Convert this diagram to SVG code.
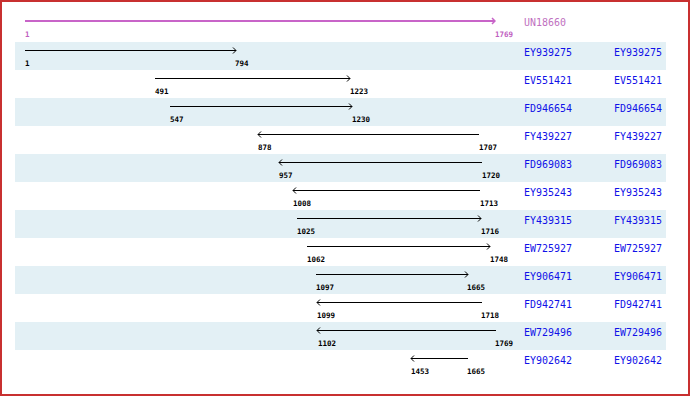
<svg xmlns="http://www.w3.org/2000/svg" width="690" height="396" viewBox="0 0 690 396">
<defs>
<style>
.band{fill:#e3f0f5}
.nm{font-family:"DejaVu Sans Mono","Liberation Mono",monospace;font-size:11px;fill:#1010e8}
.num{font-family:"DejaVu Sans Mono","Liberation Mono",monospace;font-size:7.5px;font-weight:bold;fill:#000}
.q{font-family:"DejaVu Sans Mono","Liberation Mono",monospace;font-size:11px;fill:#c070c0}
.qn{font-family:"DejaVu Sans Mono","Liberation Mono",monospace;font-size:7.5px;font-weight:bold;fill:#c060c0}
.hit{stroke:#000;stroke-width:1;fill:none;marker-end:url(#ah)}
.rev{stroke:#000;stroke-width:1;fill:none;marker-start:url(#ah)}
</style>
<marker id="ah" viewBox="-4 -4 5 8" refX="0" refY="0" markerWidth="5" markerHeight="8" markerUnits="userSpaceOnUse" orient="auto-start-reverse">
<path d="M-3,-3 L0,0 L-3,3" fill="none" stroke="#000" stroke-width="1"/>
</marker>
<marker id="ahq" viewBox="-4 -4 5 8" refX="0" refY="0" markerWidth="5" markerHeight="8" markerUnits="userSpaceOnUse" orient="auto">
<path d="M-3,-3 L0,0 L-3,3" fill="none" stroke="#c864c8" stroke-width="1.5"/>
</marker>
</defs>
<rect x="1" y="1" width="688" height="394" fill="#fff" stroke="#c83030" stroke-width="2"/>

<g id="query">
<text class="q" x="524" y="26" textLength="42" lengthAdjust="spacingAndGlyphs">UN18660</text>
<text class="qn" x="25" y="36.5">1</text>
<text class="qn" x="495" y="36.5">1769</text>
</g>

<g id="r1"><rect class="band" x="15" y="42" width="651" height="28"/>
<text class="nm" x="524" y="56" textLength="48" lengthAdjust="spacingAndGlyphs">EY939275</text><text class="nm" x="614" y="56" textLength="48" lengthAdjust="spacingAndGlyphs">EY939275</text>
<text class="num" x="25" y="66">1</text><text class="num" x="235" y="66">794</text></g>

<g id="r2">
<text class="nm" x="524" y="84" textLength="48" lengthAdjust="spacingAndGlyphs">EV551421</text><text class="nm" x="614" y="84" textLength="48" lengthAdjust="spacingAndGlyphs">EV551421</text>
<text class="num" x="155" y="94">491</text><text class="num" x="350" y="94">1223</text></g>

<g id="r3"><rect class="band" x="15" y="98" width="651" height="28"/>
<text class="nm" x="524" y="112" textLength="48" lengthAdjust="spacingAndGlyphs">FD946654</text><text class="nm" x="614" y="112" textLength="48" lengthAdjust="spacingAndGlyphs">FD946654</text>
<text class="num" x="170" y="122">547</text><text class="num" x="352" y="122">1230</text></g>

<g id="r4">
<text class="nm" x="524" y="140" textLength="48" lengthAdjust="spacingAndGlyphs">FY439227</text><text class="nm" x="614" y="140" textLength="48" lengthAdjust="spacingAndGlyphs">FY439227</text>
<text class="num" x="258" y="150">878</text><text class="num" x="479" y="150">1707</text></g>

<g id="r5"><rect class="band" x="15" y="154" width="651" height="28"/>
<text class="nm" x="524" y="168" textLength="48" lengthAdjust="spacingAndGlyphs">FD969083</text><text class="nm" x="614" y="168" textLength="48" lengthAdjust="spacingAndGlyphs">FD969083</text>
<text class="num" x="279" y="178">957</text><text class="num" x="482" y="178">1720</text></g>

<g id="r6">
<text class="nm" x="524" y="196" textLength="48" lengthAdjust="spacingAndGlyphs">EY935243</text><text class="nm" x="614" y="196" textLength="48" lengthAdjust="spacingAndGlyphs">EY935243</text>
<text class="num" x="293" y="206">1008</text><text class="num" x="480" y="206">1713</text></g>

<g id="r7"><rect class="band" x="15" y="210" width="651" height="28"/>
<text class="nm" x="524" y="224" textLength="48" lengthAdjust="spacingAndGlyphs">FY439315</text><text class="nm" x="614" y="224" textLength="48" lengthAdjust="spacingAndGlyphs">FY439315</text>
<text class="num" x="297" y="234">1025</text><text class="num" x="481" y="234">1716</text></g>

<g id="r8">
<text class="nm" x="524" y="252" textLength="48" lengthAdjust="spacingAndGlyphs">EW725927</text><text class="nm" x="614" y="252" textLength="48" lengthAdjust="spacingAndGlyphs">EW725927</text>
<text class="num" x="307" y="262">1062</text><text class="num" x="490" y="262">1748</text></g>

<g id="r9"><rect class="band" x="15" y="266" width="651" height="28"/>
<text class="nm" x="524" y="280" textLength="48" lengthAdjust="spacingAndGlyphs">EY906471</text><text class="nm" x="614" y="280" textLength="48" lengthAdjust="spacingAndGlyphs">EY906471</text>
<text class="num" x="316" y="290">1097</text><text class="num" x="467" y="290">1665</text></g>

<g id="r10">
<text class="nm" x="524" y="308" textLength="48" lengthAdjust="spacingAndGlyphs">FD942741</text><text class="nm" x="614" y="308" textLength="48" lengthAdjust="spacingAndGlyphs">FD942741</text>
<text class="num" x="317" y="318">1099</text><text class="num" x="481" y="318">1718</text></g>

<g id="r11"><rect class="band" x="15" y="322" width="651" height="28"/>
<text class="nm" x="524" y="336" textLength="48" lengthAdjust="spacingAndGlyphs">EW729496</text><text class="nm" x="614" y="336" textLength="48" lengthAdjust="spacingAndGlyphs">EW729496</text>
<text class="num" x="318" y="346">1102</text><text class="num" x="495" y="346">1769</text></g>

<g id="r12">
<text class="nm" x="524" y="364" textLength="48" lengthAdjust="spacingAndGlyphs">EY902642</text><text class="nm" x="614" y="364" textLength="48" lengthAdjust="spacingAndGlyphs">EY902642</text>
<text class="num" x="411" y="374">1453</text><text class="num" x="467" y="374">1665</text></g>

<g id="connectors">
<line x1="25" y1="21" x2="495" y2="21" stroke="#c864c8" stroke-width="2" marker-end="url(#ahq)"/>
<line class="hit" x1="25" y1="50.5" x2="236" y2="50.5"/>
<line class="hit" x1="155" y1="78.5" x2="350" y2="78.5"/>
<line class="hit" x1="170" y1="106.5" x2="352" y2="106.5"/>
<line class="rev" x1="258" y1="134.5" x2="479" y2="134.5"/>
<line class="rev" x1="279" y1="162.5" x2="482" y2="162.5"/>
<line class="rev" x1="293" y1="190.5" x2="480" y2="190.5"/>
<line class="hit" x1="297" y1="218.5" x2="481" y2="218.5"/>
<line class="hit" x1="307" y1="246.5" x2="490" y2="246.5"/>
<line class="hit" x1="316" y1="274.5" x2="468" y2="274.5"/>
<line class="rev" x1="317" y1="302.5" x2="482" y2="302.5"/>
<line class="rev" x1="317" y1="330.5" x2="496" y2="330.5"/>
<line class="rev" x1="411" y1="358.5" x2="468" y2="358.5"/>
</g>
</svg>
